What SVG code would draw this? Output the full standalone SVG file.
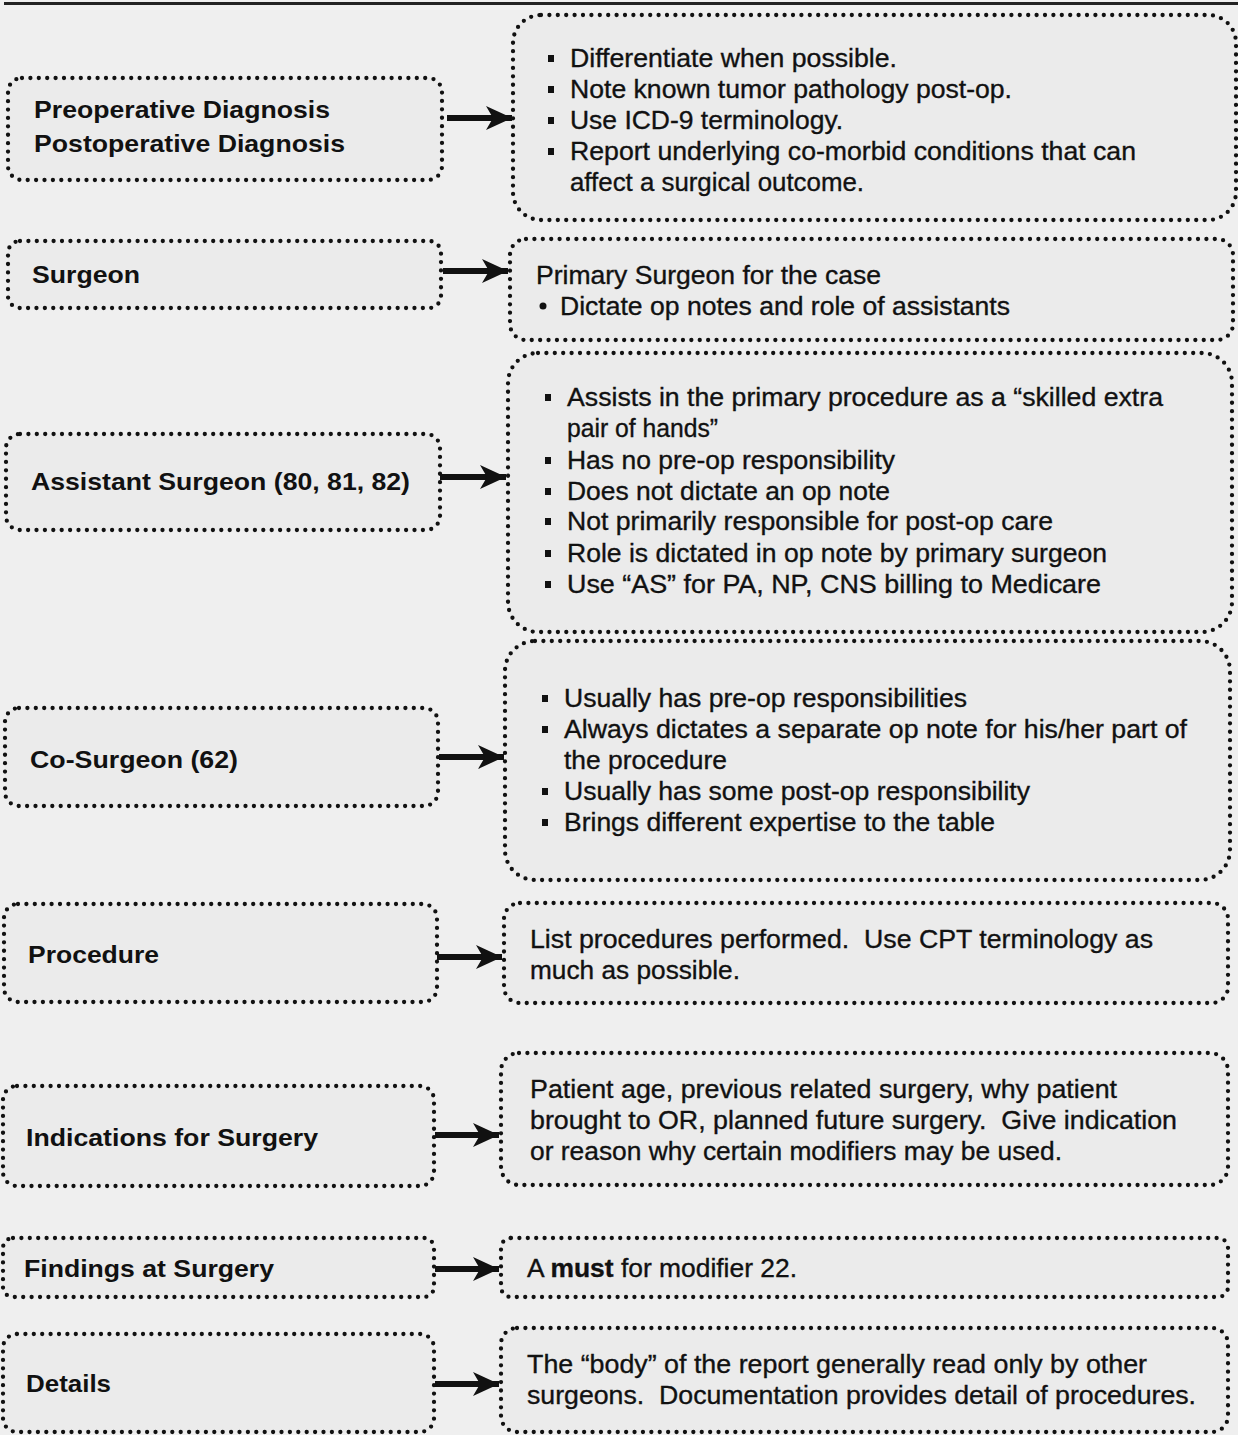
<svg xmlns="http://www.w3.org/2000/svg" width="1238" height="1435" viewBox="0 0 1238 1435">
<defs>
<style>
.bg{fill:#efefef}
.box{fill:#ebebeb;stroke:#111;stroke-width:4.3;stroke-dasharray:0 8.4;stroke-linecap:round}
.lbl{font-family:"Liberation Sans",Arial,sans-serif;font-weight:bold;font-size:24px;fill:#111}
.txt{font-family:"Liberation Sans",Arial,sans-serif;font-size:26px;fill:#111;stroke:#111;stroke-width:0.35;white-space:pre}
.blt{fill:#111}
.conn{stroke:#111;stroke-width:6;fill:none}
</style>
<marker id="ah" markerWidth="28" markerHeight="28" refX="26" refY="14" orient="auto" markerUnits="userSpaceOnUse">
<path d="M0,2 L26,14 L0,26 L7,14 Z" fill="#111"/>
</marker>
</defs>
<rect class="bg" x="0" y="0" width="1238" height="1435"/>
<line x1="4" y1="3.5" x2="1238" y2="3.5" stroke="#222" stroke-width="3"/>

<g id="connectors">
<line class="conn" x1="447" y1="118" x2="512" y2="118" marker-end="url(#ah)"/>
<line class="conn" x1="443" y1="271" x2="508" y2="271" marker-end="url(#ah)"/>
<line class="conn" x1="440" y1="477" x2="506" y2="477" marker-end="url(#ah)"/>
<line class="conn" x1="439" y1="757" x2="504" y2="757" marker-end="url(#ah)"/>
<line class="conn" x1="437" y1="957" x2="502" y2="957" marker-end="url(#ah)"/>
<line class="conn" x1="435" y1="1135" x2="499" y2="1135" marker-end="url(#ah)"/>
<line class="conn" x1="435" y1="1269" x2="499" y2="1269" marker-end="url(#ah)"/>
<line class="conn" x1="435" y1="1384" x2="499" y2="1384" marker-end="url(#ah)"/>
</g>

<g id="n-preop">
<rect class="box" x="8" y="78" width="434" height="102" rx="14"/>
<text class="lbl" x="34" y="118" textLength="296" lengthAdjust="spacingAndGlyphs">Preoperative Diagnosis</text>
<text class="lbl" x="34" y="152" textLength="311" lengthAdjust="spacingAndGlyphs">Postoperative Diagnosis</text>
</g>
<g id="n-preop-info">
<rect class="box" x="513" y="15" width="723" height="205" rx="28"/>
<rect class="blt" x="548" y="55" width="6" height="7"/>
<text class="txt" x="570" y="67" textLength="327" lengthAdjust="spacingAndGlyphs">Differentiate when possible.</text>
<rect class="blt" x="548" y="86" width="6" height="7"/>
<text class="txt" x="570" y="98" textLength="442" lengthAdjust="spacingAndGlyphs">Note known tumor pathology post-op.</text>
<rect class="blt" x="548" y="117" width="6" height="7"/>
<text class="txt" x="570" y="129" textLength="273" lengthAdjust="spacingAndGlyphs">Use ICD-9 terminology.</text>
<rect class="blt" x="548" y="148" width="6" height="7"/>
<text class="txt" x="570" y="160" textLength="566" lengthAdjust="spacingAndGlyphs">Report underlying co-morbid conditions that can</text>
<text class="txt" x="570" y="191" textLength="294" lengthAdjust="spacingAndGlyphs">affect a surgical outcome.</text>
</g>

<g id="n-surgeon">
<rect class="box" x="8" y="241" width="433" height="67" rx="12"/>
<text class="lbl" x="32" y="283" textLength="108" lengthAdjust="spacingAndGlyphs">Surgeon</text>
</g>
<g id="n-surgeon-info">
<rect class="box" x="510" y="239" width="723" height="101" rx="16"/>
<text class="txt" x="536" y="284" textLength="345" lengthAdjust="spacingAndGlyphs">Primary Surgeon for the case</text>
<circle class="blt" cx="543" cy="306" r="3.5"/>
<text class="txt" x="560" y="315" textLength="450" lengthAdjust="spacingAndGlyphs">Dictate op notes and role of assistants</text>
</g>

<g id="n-assistant">
<rect class="box" x="6" y="434" width="434" height="96" rx="14"/>
<text class="lbl" x="31" y="490" textLength="379" lengthAdjust="spacingAndGlyphs">Assistant Surgeon (80, 81, 82)</text>
</g>
<g id="n-assistant-info">
<rect class="box" x="508" y="353" width="724" height="279" rx="30"/>
<rect class="blt" x="545" y="394" width="6" height="7"/>
<text class="txt" x="567" y="406" textLength="596" lengthAdjust="spacingAndGlyphs">Assists in the primary procedure as a “skilled extra</text>
<text class="txt" x="567" y="437" textLength="151" lengthAdjust="spacingAndGlyphs">pair of hands”</text>
<rect class="blt" x="545" y="457" width="6" height="7"/>
<text class="txt" x="567" y="469" textLength="328" lengthAdjust="spacingAndGlyphs">Has no pre-op responsibility</text>
<rect class="blt" x="545" y="488" width="6" height="7"/>
<text class="txt" x="567" y="500" textLength="323" lengthAdjust="spacingAndGlyphs">Does not dictate an op note</text>
<rect class="blt" x="545" y="518" width="6" height="7"/>
<text class="txt" x="567" y="530" textLength="486" lengthAdjust="spacingAndGlyphs">Not primarily responsible for post-op care</text>
<rect class="blt" x="545" y="550" width="6" height="7"/>
<text class="txt" x="567" y="562" textLength="540" lengthAdjust="spacingAndGlyphs">Role is dictated in op note by primary surgeon</text>
<rect class="blt" x="545" y="581" width="6" height="7"/>
<text class="txt" x="567" y="593" textLength="534" lengthAdjust="spacingAndGlyphs">Use “AS” for PA, NP, CNS billing to Medicare</text>
</g>

<g id="n-cosurgeon">
<rect class="box" x="5" y="708" width="433" height="98" rx="14"/>
<text class="lbl" x="30" y="768" textLength="208" lengthAdjust="spacingAndGlyphs">Co-Surgeon (62)</text>
</g>
<g id="n-cosurgeon-info">
<rect class="box" x="505" y="641" width="725" height="239" rx="30"/>
<rect class="blt" x="542" y="695" width="6" height="7"/>
<text class="txt" x="564" y="707" textLength="403" lengthAdjust="spacingAndGlyphs">Usually has pre-op responsibilities</text>
<rect class="blt" x="542" y="726" width="6" height="7"/>
<text class="txt" x="564" y="738" textLength="623" lengthAdjust="spacingAndGlyphs">Always dictates a separate op note for his/her part of</text>
<text class="txt" x="564" y="769" textLength="163" lengthAdjust="spacingAndGlyphs">the procedure</text>
<rect class="blt" x="542" y="788" width="6" height="7"/>
<text class="txt" x="564" y="800" textLength="466" lengthAdjust="spacingAndGlyphs">Usually has some post-op responsibility</text>
<rect class="blt" x="542" y="819" width="6" height="7"/>
<text class="txt" x="564" y="831" textLength="431" lengthAdjust="spacingAndGlyphs">Brings different expertise to the table</text>
</g>

<g id="n-procedure">
<rect class="box" x="4" y="904" width="433" height="98" rx="14"/>
<text class="lbl" x="28" y="963" textLength="131" lengthAdjust="spacingAndGlyphs">Procedure</text>
</g>
<g id="n-procedure-info">
<rect class="box" x="504" y="903" width="724" height="100" rx="16"/>
<text class="txt" x="530" y="948" textLength="623" lengthAdjust="spacingAndGlyphs">List procedures performed.  Use CPT terminology as</text>
<text class="txt" x="530" y="979" textLength="210" lengthAdjust="spacingAndGlyphs">much as possible.</text>
</g>

<g id="n-indications">
<rect class="box" x="3" y="1086" width="431" height="100" rx="14"/>
<text class="lbl" x="26" y="1146" textLength="292" lengthAdjust="spacingAndGlyphs">Indications for Surgery</text>
</g>
<g id="n-indications-info">
<rect class="box" x="501" y="1053" width="727" height="132" rx="18"/>
<text class="txt" x="530" y="1098" textLength="587" lengthAdjust="spacingAndGlyphs">Patient age, previous related surgery, why patient</text>
<text class="txt" x="530" y="1129" textLength="647" lengthAdjust="spacingAndGlyphs">brought to OR, planned future surgery.  Give indication</text>
<text class="txt" x="530" y="1160" textLength="532" lengthAdjust="spacingAndGlyphs">or reason why certain modifiers may be used.</text>
</g>

<g id="n-findings">
<rect class="box" x="3" y="1238" width="431" height="59" rx="10"/>
<text class="lbl" x="24" y="1277" textLength="250" lengthAdjust="spacingAndGlyphs">Findings at Surgery</text>
</g>
<g id="n-findings-info">
<rect class="box" x="501" y="1238" width="727" height="59" rx="10"/>
<text class="txt" x="527" y="1277" textLength="270" lengthAdjust="spacingAndGlyphs">A <tspan font-weight="bold">must</tspan> for modifier 22.</text>
</g>

<g id="n-details">
<rect class="box" x="3" y="1334" width="431" height="98" rx="14"/>
<text class="lbl" x="26" y="1392" textLength="85" lengthAdjust="spacingAndGlyphs">Details</text>
</g>
<g id="n-details-info">
<rect class="box" x="501" y="1328" width="727" height="104" rx="16"/>
<text class="txt" x="527" y="1373" textLength="620" lengthAdjust="spacingAndGlyphs">The “body” of the report generally read only by other</text>
<text class="txt" x="527" y="1404" textLength="669" lengthAdjust="spacingAndGlyphs">surgeons.  Documentation provides detail of procedures.</text>
</g>
</svg>
